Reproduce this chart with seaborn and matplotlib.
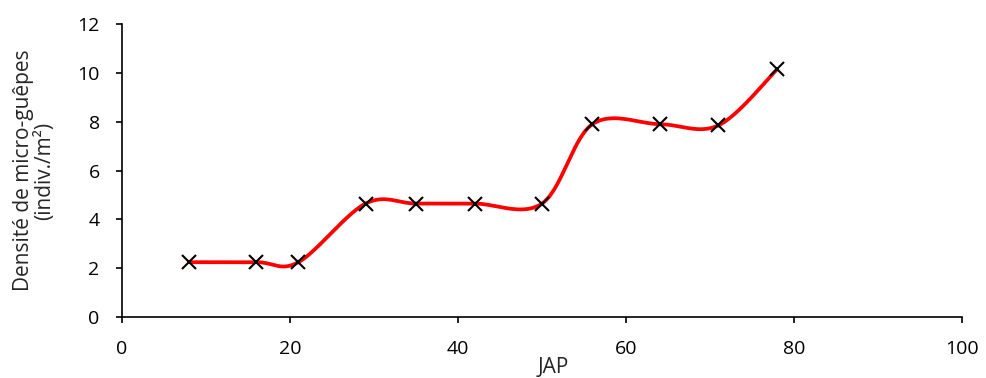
import numpy as np
import pandas as pd
import matplotlib
matplotlib.use("Agg")
import matplotlib.pyplot as plt
import seaborn as sns

# Data
jap = [8, 16, 21, 29, 35, 42, 50, 56, 64, 71, 78]
densite = [2.25, 2.25, 2.25, 4.65, 4.65, 4.65, 4.65, 7.9, 7.9, 7.85, 10.15]
x_ticks = [0, 20, 40, 60, 80, 100]
y_ticks = [0, 2, 4, 6, 8, 10, 12]
x_label = "JAP"
y_label = "Densité de micro-guêpes\n(indiv./m²)"


def smooth_curve(xs, ys, n=40):
    """Excel-like smoothed line (Catmull-Rom Bezier) through the points."""
    p = np.column_stack([xs, ys]).astype(float)
    ext = np.vstack([p[0], p, p[-1]])
    out = []
    t = np.linspace(0, 1, n)[:, None]
    for i in range(1, len(ext) - 2):
        p0, p3 = ext[i], ext[i + 1]
        c1 = p0 + (ext[i + 1] - ext[i - 1]) / 6.0
        c2 = p3 - (ext[i + 2] - ext[i]) / 6.0
        seg = ((1 - t) ** 3) * p0 + 3 * ((1 - t) ** 2) * t * c1 + 3 * (1 - t) * t ** 2 * c2 + t ** 3 * p3
        out.append(seg if i == 1 else seg[1:])
    return np.vstack(out)


sns.set_style("white")
plt.rcParams["font.family"] = ["Open Sans", "DejaVu Sans"]

fig = plt.figure(figsize=(9.86, 3.78), dpi=100)
ax = fig.add_axes([0.1237, 0.161, 0.852, 0.7755])

curve = smooth_curve(jap, densite)
curve_df = pd.DataFrame({"x": curve[:, 0], "y": curve[:, 1]})
sns.lineplot(data=curve_df, x="x", y="y", sort=False, estimator=None, color="#ff0000",
             linewidth=2.7, ax=ax, zorder=2)

pts = pd.DataFrame({"JAP": jap, "densite": densite})
ax.plot(pts["JAP"], pts["densite"], linestyle="none", marker="x", markersize=9.5,
        markeredgewidth=1.5, color="black", zorder=3)

ax.set_xlim(0, 100)
ax.set_ylim(0, 12)
ax.set_xticks(x_ticks)
ax.set_yticks(y_ticks)
ax.tick_params(axis="both", direction="out", length=4.5, width=1.2, color="black",
               labelsize=14, labelcolor="black", bottom=True, left=True)
ax.tick_params(axis="x", pad=12)
ax.tick_params(axis="y", pad=11.5)
for s in ["top", "right"]:
    ax.spines[s].set_visible(False)
for s in ["left", "bottom"]:
    ax.spines[s].set_color("black")
    ax.spines[s].set_linewidth(1.2)

ax.set_xlabel(x_label, fontsize=15)
ax.set_ylabel(y_label, fontsize=15, linespacing=1.05)
ax.xaxis.set_label_coords(0.513, -0.135)
ax.yaxis.set_label_coords(-0.079, 0.5)
ax.grid(False)

fig.savefig("out.png", dpi=100)
